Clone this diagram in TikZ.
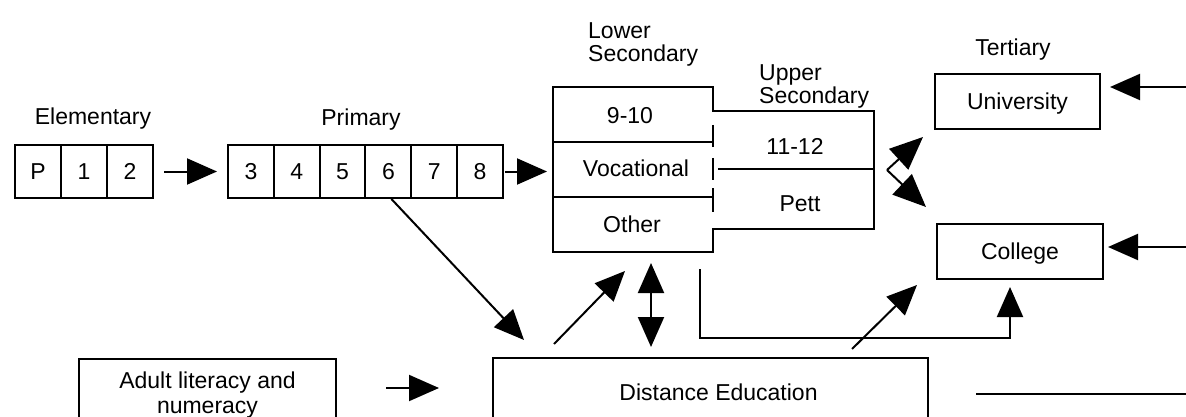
\documentclass[tikz,border=0pt]{standalone}
\usepackage{fontspec}
\setmainfont{Liberation Sans}
\usetikzlibrary{arrows.meta,calc}
\newcommand\dfont{\fontsize{23}{23}\selectfont}
\begin{document}
\begin{tikzpicture}[x=1pt,y=-1pt,
  lw/.style={line width=2pt},
  lab/.style={font=\dfont, inner sep=0pt, text height=16.5pt, text depth=0pt},
  cellbox/.style={draw, lw, minimum height=53pt, inner sep=0pt, anchor=north west,
     font=\dfont, text height=16.5pt, text depth=0pt},
  ecell/.style={cellbox, minimum width=46pt},
  pcell/.style={cellbox, minimum width=45.83pt},
  tbox/.style={draw, lw, minimum height=55pt, inner sep=0pt, font=\dfont,
     text height=16.5pt, text depth=0pt},
  arr/.style={lw, -{Triangle[length=30pt,width=26pt]}},
  bigarr/.style={lw, -{Triangle[length=33pt,width=28pt]}},
  darr/.style={lw, {Triangle[length=30pt,width=26pt]}-{Triangle[length=30pt,width=26pt]}},
  twoline/.style={font=\fontsize{23}{23}\selectfont, inner sep=0pt, align=left, anchor=base west}
]
\useasboundingbox (0,0) rectangle (1186,417);

% labels
\node[lab] (elab) at (93,116.5) {Elementary};
\node[lab] (plab) at (361,117.5) {Primary};
\node[lab] (tlab) at (1013,47.5) {Tertiary};
\node[twoline] (lslab) at (588,62) {Lower\\Secondary};
\node[twoline] (uslab) at (759,104) {Upper\\Secondary};

% elementary cells
\node[ecell] (cP) at (14,144) {P};
\node[ecell] (c1) at (60,144) {1};
\node[ecell] (c2) at (106,144) {2};

% primary cells
\node[pcell] (c3) at (227,144) {3};
\node[pcell] (c4) at (272.83,144) {4};
\node[pcell] (c5) at (318.66,144) {5};
\node[pcell] (c6) at (364.49,144) {6};
\node[pcell] (c7) at (410.32,144) {7};
\node[pcell] (c8) at (456.15,144) {8};

% secondary block
\coordinate (ls-nw) at (553,87);
\coordinate (ls-se) at (713,252);
\coordinate (us-ne) at (874,111);
\coordinate (us-se) at (874,229);
\draw[lw] (ls-nw) -- (713,87) -- (713,111) -- (us-ne) -- (us-se) -- (713,229)
   -- (ls-se) -- (553,252) -- cycle;
\draw[lw] (553,142) -- (713,142);
\draw[lw] (553,197) -- (713,197);
\draw[lw] (718,169) -- (874,169);
\draw[lw] (713,125) -- (713,147);
\draw[lw] (713,158) -- (713,180);
\draw[lw] (713,188) -- (713,212);
\node[lab] (s910) at (630,115) {9-10};
\node[lab] (svoc) at (636,168) {Vocational};
\node[lab] (soth) at (632,224) {Other};
\node[lab] (s1112) at (795,146) {11-12};
\node[lab] (spett) at (800,203) {Pett};

% tertiary
\node[tbox, minimum width=165pt] (univ) at (1017.5,101.5) {University};
\node[tbox, minimum width=166pt] (coll) at (1020,251.5) {College};

% bottom boxes
\node[draw, lw, minimum width=435pt, minimum height=68pt, inner sep=0pt,
      font=\dfont, text height=16.5pt, text depth=0pt] (de) at (710.5,392) {\hspace*{16pt}Distance Education};
\node[draw, lw, minimum width=257pt, minimum height=72pt, inner sep=0pt,
      font=\fontsize{23}{25}\selectfont, align=center] (adult) at (207.5,395)
      {Adult literacy and\\numeracy};

% connectors
\draw[arr, shorten <=10pt, shorten >=10pt] (c2.east) -- (c3.west);
\draw[arr, shorten <=1pt, shorten >=6pt] (c8.east) -- (c8.east -| ls-nw);

\coordinate (t6) at (524,340);
\draw[arr] ($(c6.south)+(3,0)$) -- (t6);

\coordinate (de1) at (554,344);
\coordinate (ls1) at (625,271);
\draw[arr] (de1) -- (ls1);

\draw[darr] ($(ls-se)+(-62,11)$) -- ($(de.north)+(-59.5,-10)$);

\coordinate (lstart) at (700,269);
\coordinate (cbot) at (1010,287);
\draw[arr] (lstart) -- (700,338) -- (cbot |- 0,338) -- (cbot);

\coordinate (de2) at (852,349);
\coordinate (cl2) at (917,285);
\draw[arr] (de2) -- (cl2);

\coordinate (bend) at (887,170);
\coordinate (ut) at (923,137);
\coordinate (ct) at (926,207);
\draw[bigarr] (bend) -- (ut);
\draw[bigarr] (bend) -- (ct);

\coordinate (ur) at (1190,87);
\draw[arr] (ur) -- ($(univ.east |- ur)+(9,0)$);
\coordinate (cr) at (1190,247);
\draw[arr] (cr) -- ($(coll.east |- cr)+(4,0)$);

\draw[arr, shorten <=49pt, shorten >=53pt] (adult.east |- 0,388) -- (de.west |- 0,388);

\coordinate (rl) at (1190,394);
\draw[lw] ($(de.east |- rl)+(47,0)$) -- (rl);
\end{tikzpicture}
\end{document}
